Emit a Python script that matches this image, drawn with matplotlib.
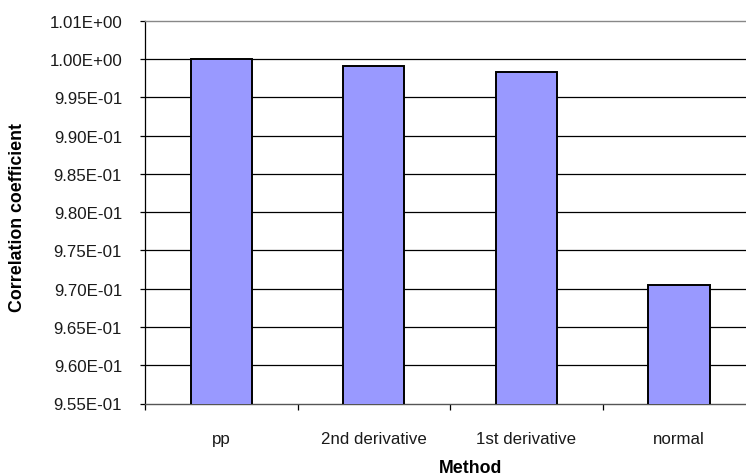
import matplotlib
matplotlib.use("Agg")
import matplotlib.pyplot as plt
import numpy as np

plt.rcParams['font.family'] = ['Liberation Sans', 'DejaVu Sans']

# Correlation coefficient for each preprocessing method
methods = ["pp", "2nd derivative", "1st derivative", "normal"]
corr = [1.0000, 0.99914, 0.99826, 0.97043]

# Value-axis ticks and their printed labels
y_ticks = [0.955, 0.960, 0.965, 0.970, 0.975, 0.980, 0.985, 0.990, 0.995, 1.000, 1.005]
y_tick_labels = ["9.55E-01", "9.60E-01", "9.65E-01", "9.70E-01", "9.75E-01", "9.80E-01",
                 "9.85E-01", "9.90E-01", "9.95E-01", "1.00E+00", "1.01E+00"]

W, H = 746, 477
fig = plt.figure(figsize=(W / 100, H / 100), dpi=100)
left, right = 145 / W, 755.3 / W
bottom, top = (H - 404.5) / H, (H - 21.7) / H
ax = fig.add_axes([left, bottom, right - left, top - bottom])
ax_w = (right - left) * W
ax_h = (top - bottom) * H

x = np.arange(len(methods))
ax.bar(x, corr, width=0.4, bottom=0, color="#9999FF", edgecolor="black",
       linewidth=1.4, zorder=3)

ax.set_ylim(y_ticks[0], y_ticks[-1])
ax.set_xlim(-0.5, len(methods) - 0.5)

# horizontal gridlines
for yv in y_ticks[1:-1]:
    ax.axhline(yv, color="black", linewidth=0.9, zorder=1)

tick_fs = 12.2
ax.set_yticks(y_ticks)
ax.set_yticklabels(y_tick_labels, fontsize=tick_fs, color="#1a1a1a")
ax.tick_params(axis="y", direction="out", length=3.5, width=0.9, pad=13)

# category labels centred, tick marks on the category boundaries
ax.set_xticks(x)
ax.set_xticklabels(methods, fontsize=tick_fs, color="#1a1a1a")
ax.tick_params(axis="x", which="major", length=0, pad=19.5)
ax.set_xticks(np.arange(-0.5, len(methods), 1.0), minor=True)
ax.tick_params(axis="x", which="minor", direction="out", length=4, width=0.9)

ax.spines["right"].set_visible(False)
ax.spines["top"].set_color("#888888")
ax.spines["top"].set_linewidth(1.0)
ax.spines["left"].set_color("black")
ax.spines["left"].set_linewidth(0.9)
ax.spines["bottom"].set_color("#555555")
ax.spines["bottom"].set_linewidth(1.0)

ax.set_ylabel("Correlation coefficient", fontsize=12.8, fontweight="bold",
              va="center", ha="center")
ax.yaxis.set_label_coords((18 - 145) / ax_w, (404.5 - 218) / ax_h)
ax.set_xlabel("Method", fontsize=12.8, fontweight="bold", va="center", ha="center")
ax.xaxis.set_label_coords((471 - 145) / ax_w, (404.5 - 469) / ax_h)

fig.savefig("out.png", dpi=100)
